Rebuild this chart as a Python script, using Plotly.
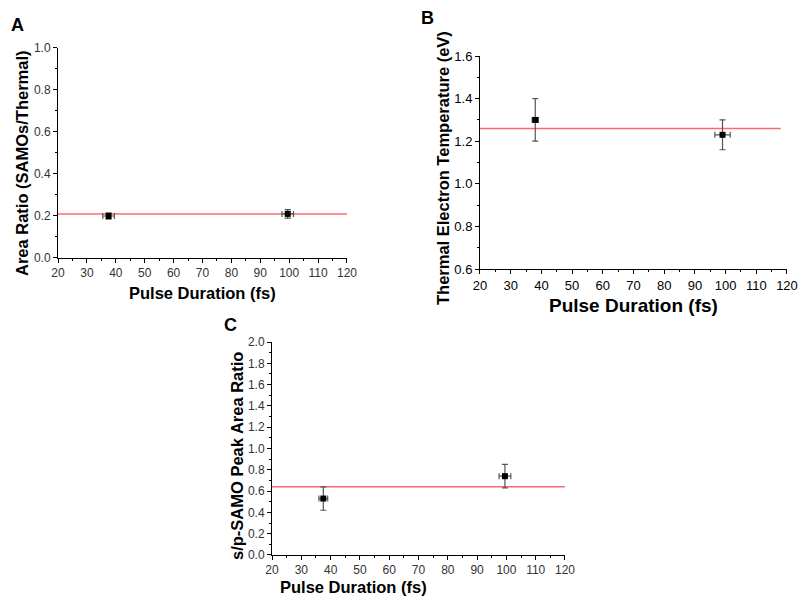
import plotly.graph_objects as go

# Panel A data
a_x = [37.5, 99.5]
a_y = [0.20, 0.21]
a_yerr = [0.015, 0.02]
a_xerr = [2.0, 2.0]
a_fit = 0.21

# Panel B data
b_x = [38, 99]
b_y = [1.30, 1.23]
b_yerr = [0.10, 0.07]
b_xerr = [1.0, 2.5]
b_fit = 1.26
b_fit_end = 118

# Panel C data
c_x = [37.5, 99.5]
c_y = [0.53, 0.74]
c_yerr = [0.11, 0.11]
c_xerr = [1.5, 2.0]
c_fit = 0.64

x_range = [20, 120]
x_ticks = list(range(20, 121, 10))

W, H = 798, 599
fig = go.Figure()

def add_panel(xs, ys, xerr, yerr, fit, fit_end, xa, ya):
    fig.add_trace(go.Scatter(x=[20, fit_end], y=[fit, fit], mode="lines",
                             line=dict(color="#ff6b6b", width=1.5),
                             xaxis=xa, yaxis=ya, showlegend=False, hoverinfo="skip"))
    fig.add_trace(go.Scatter(x=xs, y=ys, mode="markers",
                             marker=dict(symbol="square", size=6, color="black"),
                             error_y=dict(type="data", array=yerr, color="#555", thickness=1.2, width=3),
                             error_x=dict(type="data", array=xerr, color="#555", thickness=1.2, width=3),
                             xaxis=xa, yaxis=ya, showlegend=False))

add_panel(a_x, a_y, a_xerr, a_yerr, a_fit, 120, "x", "y")
add_panel(b_x, b_y, b_xerr, b_yerr, b_fit, b_fit_end, "x2", "y2")
add_panel(c_x, c_y, c_xerr, c_yerr, c_fit, 120, "x3", "y3")

font_fam = "Liberation Sans, Arial, sans-serif"

def xaxis_cfg(domain, anchor, tsize, tcolor):
    return dict(domain=domain, anchor=anchor, range=x_range, tickvals=x_ticks,
                automargin=False,
                showline=True, linecolor="black", linewidth=1, mirror=False,
                ticks="outside", ticklen=4, tickcolor="black", showgrid=False, zeroline=False,
                minor=dict(dtick=5, ticks="outside", ticklen=2, tickcolor="black"),
                tickfont=dict(family=font_fam, size=tsize, color=tcolor))

def yaxis_cfg(domain, anchor, rng, dtick, tsize, tcolor):
    return dict(domain=domain, anchor=anchor, range=rng, dtick=dtick, tick0=rng[0],
                tickformat=".1f", automargin=False,
                showline=True, linecolor="black", linewidth=1, mirror=False,
                ticks="outside", ticklen=4, tickcolor="black", showgrid=False, zeroline=False,
                minor=dict(dtick=dtick / 2, ticks="outside", ticklen=2, tickcolor="black"),
                tickfont=dict(family=font_fam, size=tsize, color=tcolor))

def px(x, y):
    return x / W, 1 - y / H

texts = [
    # (text, x_px, y_px, size, angle)
    ("<b>A</b>", 17, 25, 18, 0),
    ("<b>B</b>", 427, 18, 18, 0),
    ("<b>C</b>", 230, 325, 18, 0),
    ("<b>Pulse Duration (fs)</b>", 202, 293, 16.5, 0),
    ("<b>Area Ratio (SAMOs/Thermal)</b>", 22, 163, 16.5, -90),
    ("<b>Pulse Duration (fs)</b>", 633, 305, 19, 0),
    ("<b>Thermal Electron Temperature (eV)</b>", 443, 168, 16.5, -90),
    ("<b>Pulse Duration (fs)</b>", 353, 587, 16.5, 0),
    ("<b>s/p-SAMO Peak Area Ratio</b>", 237, 456, 16.5, -90),
]
anns = []
for t, x, y, s, ang in texts:
    xp, yp = px(x, y)
    anns.append(dict(text=t, x=xp, y=yp, xref="paper", yref="paper", showarrow=False,
                     xanchor="center", yanchor="middle", textangle=ang,
                     font=dict(family=font_fam, size=s, color="black")))

fig.update_layout(
    width=W, height=H,
    margin=dict(l=0, r=0, t=0, b=0),
    paper_bgcolor="white", plot_bgcolor="white",
    xaxis=xaxis_cfg([0.0727, 0.4348], "y", 12, "#333"),
    yaxis=yaxis_cfg([0.5693, 0.9199], "x", [0, 1.0], 0.2, 12, "#333"),
    xaxis2=xaxis_cfg([0.6015, 0.9862], "y2", 13, "black"),
    yaxis2=yaxis_cfg([0.5509, 0.9065], "x2", [0.6, 1.6], 0.2, 13, "black"),
    xaxis3=xaxis_cfg([0.3409, 0.7080], "y3", 12, "#333"),
    yaxis3=yaxis_cfg([0.0735, 0.4290], "x3", [0, 2.0], 0.2, 12, "#333"),
    annotations=anns,
)

fig.write_html("out.html", config={"displayModeBar": False},
               post_script="document.body.style.margin='0';document.body.style.overflow='hidden';")
